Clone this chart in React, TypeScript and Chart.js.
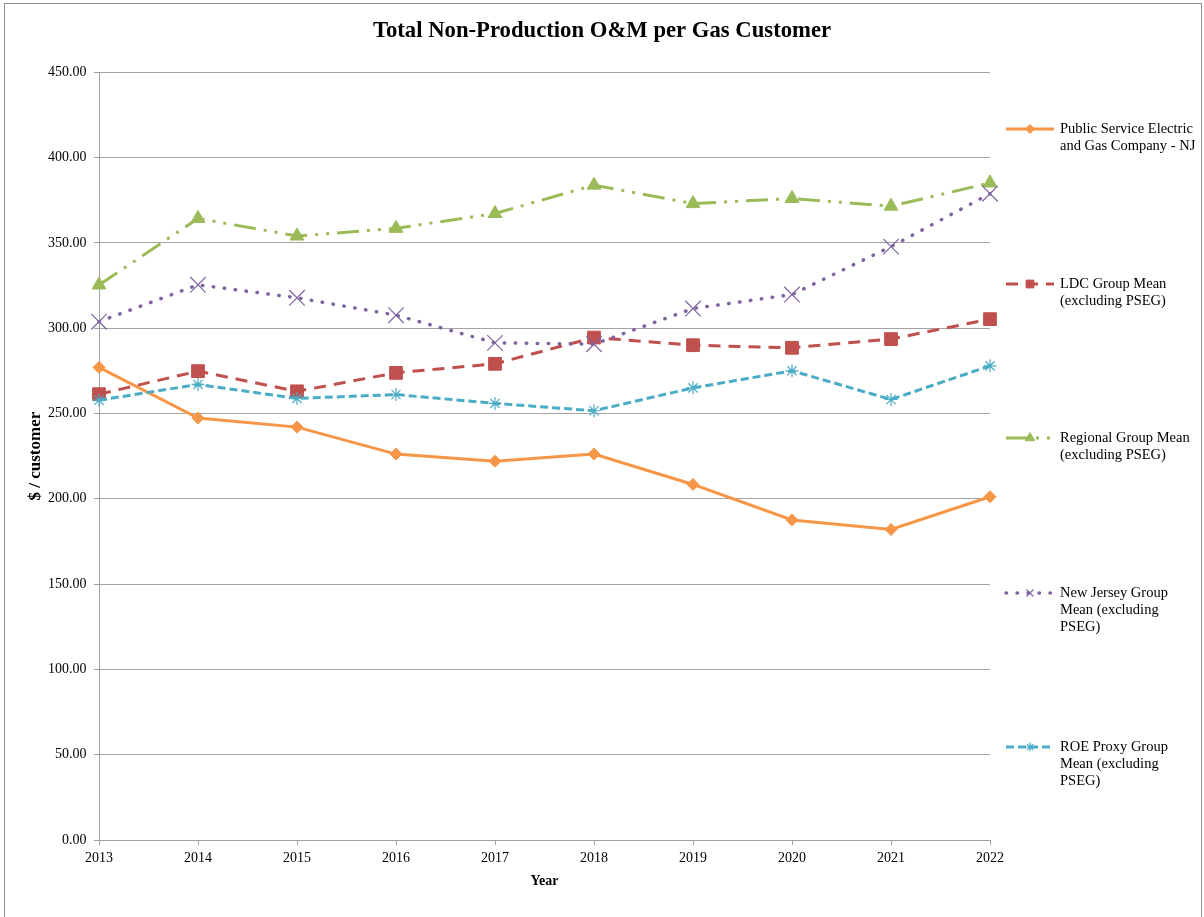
import React, { useEffect, useRef } from 'react';
import { Chart, registerables } from 'chart.js';
import { drawPoint } from 'chart.js/helpers';

Chart.register(...registerables);

// ---- data ----
const years = ['2013', '2014', '2015', '2016', '2017', '2018', '2019', '2020', '2021', '2022'];

const psegValues = [277.0, 247.3, 242.0, 226.2, 222.0, 226.2, 208.4, 187.6, 182.0, 201.2];
const ldcValues = [261.3, 274.8, 263.0, 273.8, 279.1, 294.5, 290.0, 288.5, 293.6, 305.3];
const regionalValues = [325.3, 364.3, 354.0, 358.5, 367.2, 383.8, 373.0, 376.0, 371.5, 385.1];
const njValues = [303.8, 325.4, 317.8, 307.6, 291.4, 290.6, 311.5, 319.7, 347.8, 378.8];
const roeValues = [257.8, 267.0, 258.8, 261.1, 255.9, 251.6, 265.0, 275.0, 258.2, 277.9];

const yMin = 0;
const yMax = 450;
const yStep = 50;

const chartTitle = 'Total Non-Production O&M per Gas Customer';
const xAxisTitle = 'Year';
const yAxisTitle = '$ / customer';

const seriesLabels = [
  ['Public Service Electric', 'and Gas Company - NJ'],
  ['LDC Group Mean', '(excluding PSEG)'],
  ['Regional Group Mean', '(excluding PSEG)'],
  ['New Jersey Group', 'Mean (excluding', 'PSEG)'],
  ['ROE Proxy Group', 'Mean (excluding', 'PSEG)'],
];

// ---- styling ----
const FONT = "'Liberation Serif', 'Times New Roman', serif";
const GRID = '#a3a3a3';
const ORANGE = '#F79646';
const RED = '#C0504D';
const GREEN = '#9BBB59';
const PURPLE = '#8064A2';
const CYAN = '#4BACC6';

// legend layout (right-hand column)
const legendRowsY = [129, 284, 438, 593, 747];
const legendLineHeight = 17.3;
const legendSampleX0 = 1006;
const legendSampleX1 = 1054;
const legendTextX = 1060;
const legendMarkerRadius = [4.5, 5.5, 5.5, 5, 4.5];

const frameAndLegend = {
  id: 'frameAndLegend',
  afterDraw(chart: any) {
    const ctx: CanvasRenderingContext2D = chart.ctx;
    ctx.save();

    // outer frame
    ctx.setLineDash([]);
    ctx.strokeStyle = '#8f8f8f';
    ctx.lineWidth = 1;
    ctx.strokeRect(4.5, 3.5, 1197, 1000);

    // legend
    chart.data.datasets.forEach((ds: any, i: number) => {
      const y = legendRowsY[i];
      ctx.save();
      ctx.beginPath();
      ctx.setLineDash(ds.borderDash || []);
      ctx.lineCap = ds.borderCapStyle || 'butt';
      ctx.lineWidth = ds.borderWidth;
      ctx.strokeStyle = ds.borderColor;
      ctx.moveTo(legendSampleX0, y);
      ctx.lineTo(legendSampleX1, y);
      ctx.stroke();
      ctx.restore();

      ctx.save();
      ctx.setLineDash([]);
      ctx.fillStyle = ds.pointBackgroundColor;
      ctx.strokeStyle = ds.pointBorderColor;
      ctx.lineWidth = ds.pointBorderWidth;
      drawPoint(
        ctx,
        {
          pointStyle: ds.pointStyle,
          rotation: 0,
          radius: legendMarkerRadius[i],
          borderWidth: ds.pointBorderWidth,
        } as any,
        (legendSampleX0 + legendSampleX1) / 2,
        y
      );
      ctx.restore();

      ctx.fillStyle = '#000';
      ctx.font = `14.5px ${FONT}`;
      ctx.textBaseline = 'middle';
      ctx.textAlign = 'left';
      seriesLabels[i].forEach((line, k) => {
        ctx.fillText(line, legendTextX, y + k * legendLineHeight);
      });
    });

    ctx.restore();
  },
};

export default function App() {
  const canvasRef = useRef<HTMLCanvasElement>(null);

  useEffect(() => {
    if (!canvasRef.current) return;
    const chart = new Chart(canvasRef.current, {
      type: 'line',
      data: {
        labels: years,
        datasets: [
          {
            label: seriesLabels[0].join(' '),
            data: psegValues,
            borderColor: ORANGE,
            backgroundColor: ORANGE,
            borderWidth: 3,
            pointStyle: 'rectRot',
            pointRadius: 6,
            pointBackgroundColor: ORANGE,
            pointBorderColor: ORANGE,
            pointBorderWidth: 1,
            tension: 0,
            order: 5,
          },
          {
            label: seriesLabels[1].join(' '),
            data: ldcValues,
            borderColor: RED,
            backgroundColor: RED,
            borderWidth: 3,
            borderDash: [12, 8],
            pointStyle: 'rect',
            pointRadius: 9,
            pointBackgroundColor: RED,
            pointBorderColor: RED,
            pointBorderWidth: 1,
            tension: 0,
            order: 4,
          },
          {
            label: seriesLabels[2].join(' '),
            data: regionalValues,
            borderColor: GREEN,
            backgroundColor: GREEN,
            borderWidth: 3,
            borderDash: [22, 8, 3, 8, 3, 8],
            pointStyle: 'triangle',
            pointRadius: 8,
            pointBackgroundColor: GREEN,
            pointBorderColor: GREEN,
            pointBorderWidth: 1,
            tension: 0,
            order: 3,
          },
          {
            label: seriesLabels[3].join(' '),
            data: njValues,
            borderColor: PURPLE,
            backgroundColor: PURPLE,
            borderWidth: 3.5,
            borderDash: [0.5, 10.5],
            borderCapStyle: 'round',
            pointStyle: 'crossRot',
            pointRadius: 11,
            pointBackgroundColor: PURPLE,
            pointBorderColor: PURPLE,
            pointBorderWidth: 1.2,
            tension: 0,
            order: 2,
          },
          {
            label: seriesLabels[4].join(' '),
            data: roeValues,
            borderColor: CYAN,
            backgroundColor: CYAN,
            borderWidth: 3,
            borderDash: [8, 4],
            pointStyle: 'star',
            pointRadius: 6.5,
            pointBackgroundColor: CYAN,
            pointBorderColor: CYAN,
            pointBorderWidth: 1.2,
            tension: 0,
            order: 1,
          },
        ],
      },
      options: {
        responsive: false,
        animation: false,
        layout: { padding: 0 },
        plugins: {
          legend: { display: false },
          tooltip: { enabled: false },
          title: {
            display: true,
            text: chartTitle,
            color: '#000',
            font: { family: FONT, size: 22.7, weight: 'bold' },
            padding: { top: 17.5, bottom: 27.5 },
          },
        },
        scales: {
          x: {
            type: 'category',
            offset: false,
            grid: {
              display: true,
              drawOnChartArea: false,
              drawTicks: true,
              tickLength: 5,
              color: GRID,
            },
            border: { color: GRID, width: 1 },
            ticks: {
              color: '#000',
              font: { family: FONT, size: 14 },
              padding: 5,
              maxRotation: 0,
              autoSkip: false,
            },
            title: {
              display: true,
              text: xAxisTitle,
              color: '#000',
              font: { family: FONT, size: 14, weight: 'bold' },
              padding: { top: 0, bottom: 27.6 },
            },
            afterFit: (scale: any) => {
              scale.height = 77;
            },
          },
          y: {
            min: yMin,
            max: yMax,
            grid: { color: GRID, tickLength: 5, lineWidth: 1 },
            border: { color: GRID, width: 1 },
            ticks: {
              stepSize: yStep,
              color: '#000',
              font: { family: FONT, size: 14 },
              padding: 7.5,
              callback: (v: any) => Number(v).toFixed(2),
            },
            title: {
              display: true,
              text: yAxisTitle,
              color: '#000',
              font: { family: FONT, size: 17, weight: 'bold' },
              padding: { top: 25.5, bottom: 0 },
            },
            afterFit: (scale: any) => {
              scale.width = 99;
            },
          },
          // blank right-hand band that holds the legend column
          legendBand: {
            type: 'linear',
            position: 'right',
            display: true,
            grid: { display: false, drawOnChartArea: false },
            border: { display: false },
            ticks: { display: false },
            title: { display: false },
            afterFit: (scale: any) => {
              scale.width = 214;
            },
          },
        },
      } as any,
      plugins: [frameAndLegend],
    });
    return () => chart.destroy();
  }, []);

  return (
    <div
      style={{
        position: 'absolute',
        left: 0,
        top: 0,
        width: 1204,
        height: 917,
        background: '#fff',
        overflow: 'hidden',
      }}
    >
      <canvas ref={canvasRef} width={1204} height={917} style={{ display: 'block' }} />
    </div>
  );
}
